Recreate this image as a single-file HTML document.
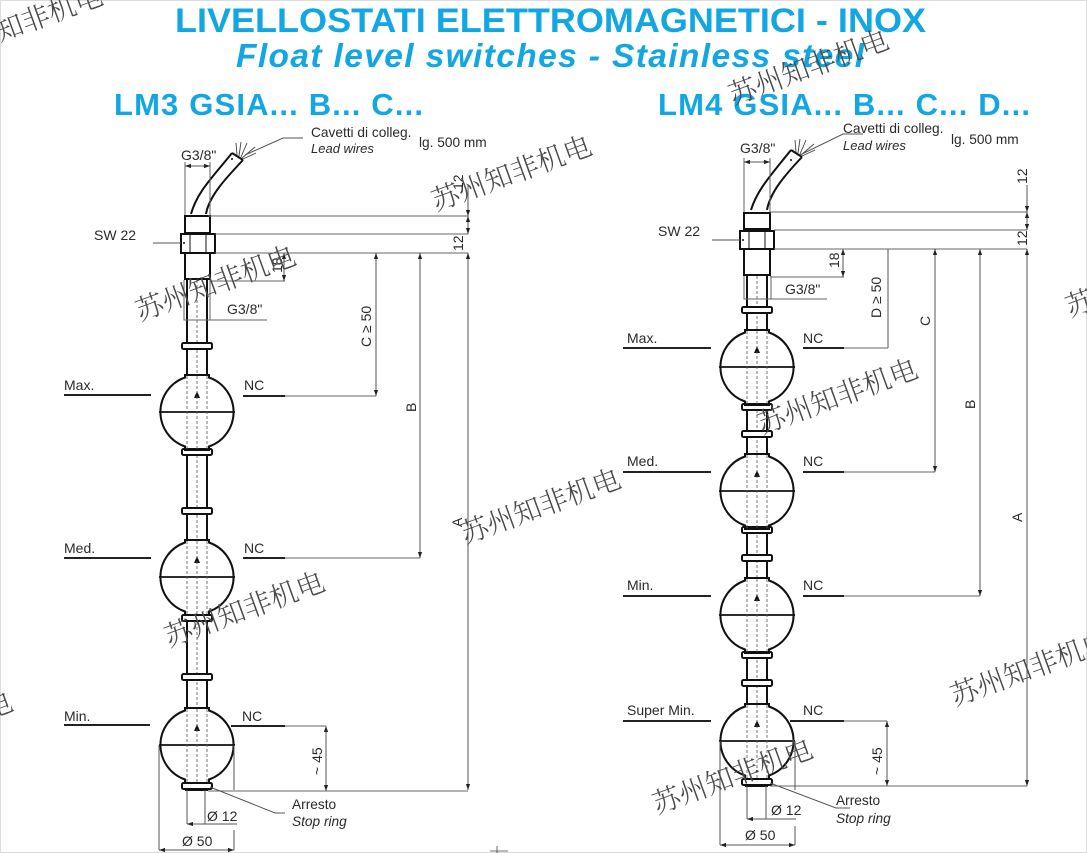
<!DOCTYPE html>
<html><head><meta charset="utf-8"><style>
html,body{margin:0;padding:0;background:#fff;overflow:hidden;width:1087px;height:853px}
#w{position:relative;width:1087px;height:853px;overflow:hidden}
svg{display:block;filter:blur(.35px)}
text{font-family:"Liberation Sans",sans-serif;fill:#2a2a2a;font-size:14px}
.t{fill:#12a7e3;font-weight:bold}
.s{font-size:13.7px}
.i{font-size:13px;font-style:italic}
.w{font-family:"Noto Serif CJK SC","Liberation Serif",serif;font-size:28px;fill:#4a4a4a;text-anchor:middle;dominant-baseline:central;font-weight:300}
.k{stroke:#111;stroke-width:2;fill:none}
.d{stroke:#555;stroke-width:1;fill:none}
.e{stroke:#666;stroke-width:1;fill:none}
.h{stroke:#222;stroke-width:2;fill:none}
.da{stroke:#555;stroke-width:.8;stroke-dasharray:3 2;fill:none}
</style></head><body><div id="w">
<svg width="1087" height="853" viewBox="0 0 1087 853" xmlns="http://www.w3.org/2000/svg">
<defs>
<g id="ball">
<path class="k" fill="#fff" d="M-12,-37H12V-34.5A36.5,36.5 0 0 1 12,34.5V38H-12V34.5A36.5,36.5 0 0 1 -12,-34.5Z"/>
<path stroke="#111" stroke-width="1.7" d="M-38,0H38"/>
<path fill="#111" d="M0,-21L3,-14H-3Z"/>
<path class="da" d="M-10,-36V38M10,-36V38M0,-36V38"/>
</g>
<g id="ring"><rect x="-15" y="-3" width="30" height="6" rx="1.5" fill="#fff" stroke="#111" stroke-width="2"/></g>
<marker id="a" viewBox="0 0 8 8" refX="8" refY="4" markerWidth="8" markerHeight="6" orient="auto-start-reverse" markerUnits="userSpaceOnUse"><path d="M0,1.2L8,4L0,6.8Z" fill="#222"/></marker>
</defs>
<rect x="0.5" y="0.5" width="1086" height="852" fill="#fff" stroke="#bbb" stroke-dasharray="1 1"/>

<text class="t" x="175" y="32" style="font-size:34.5px" textLength="751" lengthAdjust="spacingAndGlyphs">LIVELLOSTATI ELETTROMAGNETICI - INOX</text>
<text class="t" x="236" y="67" style="font-size:33.5px;font-style:italic" textLength="628">Float level switches - Stainless steel</text>
<text class="t" x="114" y="115" style="font-size:31px" textLength="309">LM3 GSIA... B... C...</text>
<text class="t" x="658" y="115" style="font-size:31px" textLength="372">LM4 GSIA... B... C... D...</text>

<!-- LEFT DRAWING -->
<g>
<path class="k" d="M187,279V375M207,279V375M187,450V540M207,450V540M187,617V708M207,617V708"/>
<path class="da" d="M197,280V375M197,450V540M197,617V708"/>
<path class="k" stroke-width="1.6" d="M191,214C197,192 212,178 232,153M206,214C209,196 226,178 243,160M232,153L243,160"/>
<path stroke="#444" stroke-width=".9" d="M237,155L236,143M239,156L241,142M241,157L247,143M242,158L255,147M243,159L256,153"/>
<circle cx="232" cy="159" r="1" fill="#111"/>
<rect x="185" y="216" width="25" height="17" fill="#fff" class="k"/>
<rect x="181" y="234" width="34" height="19" fill="#fff" class="k"/>
<path stroke="#111" d="M190,234V253M206,234V253"/><circle cx="184" cy="243" r="1" fill="#111"/>
<rect x="185" y="253" width="25" height="26" fill="#fff" class="k"/>
<use href="#ring" x="197" y="346"/><use href="#ring" x="197" y="452"/><use href="#ring" x="197" y="511"/><use href="#ring" x="197" y="618"/><use href="#ring" x="197" y="677"/>
<use href="#ball" x="197" y="412"/><use href="#ball" x="197" y="577"/><use href="#ball" x="197" y="745"/>
<use href="#ring" x="197" y="786"/>
<path class="k" d="M185,790H208" stroke-width="3"/>

<path class="e" d="M208,216H468M215,234H468M215,253H468M210,281H285M184,280V320H267M210,280V320"/>
<path class="e" d="M185,162V215M210,162V215"/>
<path class="d" marker-start="url(#a)" marker-end="url(#a)" d="M185,166H210"/>
<path class="d" marker-end="url(#a)" d="M468,185V216"/>
<path class="d" marker-start="url(#a)" marker-end="url(#a)" d="M468,216V234" />
<path class="d" marker-start="url(#a)" marker-end="url(#a)" d="M468,253V790"/>
<path class="d" marker-start="url(#a)" marker-end="url(#a)" d="M376,253V396"/>
<path class="d" marker-start="url(#a)" marker-end="url(#a)" d="M420,253V558"/>
<path class="d" marker-start="url(#a)" marker-end="url(#a)" d="M284,253V281"/>
<path class="d" marker-start="url(#a)" marker-end="url(#a)" d="M326,726V791"/>
<path class="e" d="M285,396H376M285,558H420M285,726H326M208,791H468"/>
<path class="h" d="M64,395H151M243,396H285M64,558H151M243,558H285M64,725H150M231,726H285"/>
<path class="d" d="M153,243H181M245,155L283,138H303M210,787L275,813H285"/>
<path class="d" d="M187,790V824M205,790V824M159,745V850M234,745V790M234,830V850"/>
<path class="d" marker-start="url(#a)" d="M187,824H237"/>
<path class="d" marker-start="url(#a)" marker-end="url(#a)" d="M159,850H234"/>

<text x="181" y="160">G3/8"</text>
<text x="311" y="137" class="s">Cavetti di colleg.</text>
<text x="311" y="153" class="i">Lead wires</text>
<text x="419" y="147" class="s">lg. 500 mm</text>
<text x="94" y="240">SW 22</text>
<text x="227" y="314">G3/8"</text>
<text x="64" y="390">Max.</text><text x="244" y="390">NC</text>
<text x="64" y="553">Med.</text><text x="244" y="553">NC</text>
<text x="64" y="721">Min.</text><text x="242" y="721">NC</text>
<text x="292" y="809" class="s">Arresto</text>
<text x="292" y="826" class="s" font-style="italic">Stop ring</text>
<text x="207" y="821">Ø 12</text>
<text x="182" y="846">Ø 50</text>
<text transform="translate(463,190) rotate(-90)">12</text>
<text transform="translate(463,251) rotate(-90)">12</text>
<text transform="translate(282,273) rotate(-90)">18</text>
<text transform="translate(371,347) rotate(-90)">C ≥ 50</text>
<text transform="translate(416,412) rotate(-90)">B</text>
<text transform="translate(462,527) rotate(-90)">A</text>
<text transform="translate(322,775) rotate(-90)">~ 45</text>
</g>

<!-- RIGHT DRAWING -->
<g>
<path class="k" d="M747,275V330M767,275V330M747,405V454M767,405V454M747,530V578M767,530V578M747,655V704M767,655V704"/>
<path class="da" d="M757,276V330M757,405V454M757,530V578M757,655V704"/>
<path class="k" stroke-width="1.6" d="M751,210C757,190 771,175 791,150M767,210C770,192 786,174 802,157M791,150L802,157"/>
<path stroke="#444" stroke-width=".9" d="M796,152L795,140M798,153L800,139M800,154L806,140M801,155L814,144M802,156L815,150"/>
<circle cx="791" cy="160" r="1" fill="#111"/>
<rect x="744" y="213" width="26" height="16" fill="#fff" class="k"/>
<rect x="740" y="231" width="34" height="18" fill="#fff" class="k"/>
<path stroke="#111" d="M749,231V249M765,231V249"/><circle cx="743" cy="240" r="1" fill="#111"/>
<rect x="744" y="249" width="26" height="26" fill="#fff" class="k"/>
<use href="#ring" x="757" y="310"/><use href="#ring" x="757" y="407"/><use href="#ring" x="757" y="434"/><use href="#ring" x="757" y="530"/><use href="#ring" x="757" y="558"/><use href="#ring" x="757" y="655"/><use href="#ring" x="757" y="683"/>
<use href="#ball" x="757" y="367"/><use href="#ball" x="757" y="491"/><use href="#ball" x="757" y="615"/><use href="#ball" x="757" y="741"/>
<use href="#ring" x="757" y="782"/>
<path class="k" d="M745,786H768" stroke-width="3"/>

<path class="e" d="M770,212H1027M774,230H1027M774,249H1027M770,277H844M744,276V299H827M771,276V299"/>
<path class="e" d="M744,158V212M770,158V212"/>
<path class="d" marker-start="url(#a)" marker-end="url(#a)" d="M744,162H770"/>
<path class="d" marker-end="url(#a)" d="M1027,185V212"/>
<path class="d" marker-start="url(#a)" marker-end="url(#a)" d="M1027,212V230"/>
<path class="d" marker-start="url(#a)" marker-end="url(#a)" d="M1027,249V786"/>
<path class="d" d="M888,249V348"/>
<path class="d" marker-start="url(#a)" marker-end="url(#a)" d="M935,249V472"/>
<path class="d" marker-start="url(#a)" marker-end="url(#a)" d="M980,249V596"/>
<path class="d" marker-start="url(#a)" marker-end="url(#a)" d="M843,249V277"/>
<path class="d" marker-start="url(#a)" marker-end="url(#a)" d="M887,721V786"/>
<path class="e" d="M844,348H888M844,472H935M844,596H980M844,721H887M770,786H1027"/>
<path class="h" d="M623,348H711M803,348H844M623,472H711M803,472H844M623,596H711M803,596H844M623,721H711M790,721H844"/>
<path class="d" d="M712,240H740M800,155L843,134H863M770,783L836,808H850"/>
<path class="d" d="M747,786V819M766,786V819M720,741V845M795,741V790M795,826V845"/>
<path class="d" marker-start="url(#a)" d="M747,819H796"/>
<path class="d" marker-start="url(#a)" marker-end="url(#a)" d="M720,845H795"/>

<text x="740" y="153">G3/8"</text>
<text x="843" y="133" class="s">Cavetti di colleg.</text>
<text x="843" y="150" class="i">Lead wires</text>
<text x="951" y="144" class="s">lg. 500 mm</text>
<text x="658" y="236">SW 22</text>
<text x="785" y="294">G3/8"</text>
<text x="627" y="343">Max.</text><text x="803" y="343">NC</text>
<text x="627" y="466">Med.</text><text x="803" y="466">NC</text>
<text x="627" y="590">Min.</text><text x="803" y="590">NC</text>
<text x="627" y="715">Super Min.</text><text x="803" y="715">NC</text>
<text x="836" y="805" class="s">Arresto</text>
<text x="836" y="823" class="s" font-style="italic">Stop ring</text>
<text x="771" y="815">Ø 12</text>
<text x="745" y="840">Ø 50</text>
<text transform="translate(1027,184) rotate(-90)">12</text>
<text transform="translate(1027,246) rotate(-90)">12</text>
<text transform="translate(839,268) rotate(-90)">18</text>
<text transform="translate(881,318) rotate(-90)">D ≥ 50</text>
<text transform="translate(930,326) rotate(-90)">C</text>
<text transform="translate(975,409) rotate(-90)">B</text>
<text transform="translate(1022,522) rotate(-90)">A</text>
<text transform="translate(882,775) rotate(-90)">~ 45</text>
</g>

<!-- WATERMARKS -->
<g>
<text class="w" transform="translate(22,22) rotate(-20)">苏州知非机电</text>
<text class="w" transform="translate(808,66) rotate(-20)">苏州知非机电</text>
<text class="w" transform="translate(511,172) rotate(-20)">苏州知非机电</text>
<text class="w" transform="translate(215,282) rotate(-20)">苏州知非机电</text>
<text class="w" transform="translate(540,505) rotate(-20)">苏州知非机电</text>
<text class="w" transform="translate(244,608) rotate(-20)">苏州知非机电</text>
<text class="w" transform="translate(837,395) rotate(-20)">苏州知非机电</text>
<text class="w" transform="translate(1030,667) rotate(-20)">苏州知非机电</text>
<text class="w" transform="translate(732,775) rotate(-20)">苏州知非机电</text>
<text class="w" transform="translate(-68,728) rotate(-20)">苏州知非机电</text>
<text class="w" transform="translate(1145,278) rotate(-20)">苏州知非机电</text>
<path stroke="#4a4a4a" stroke-width=".8" d="M497,846V853M490,851H508"/>
</g>
</svg>
</div></body></html>
